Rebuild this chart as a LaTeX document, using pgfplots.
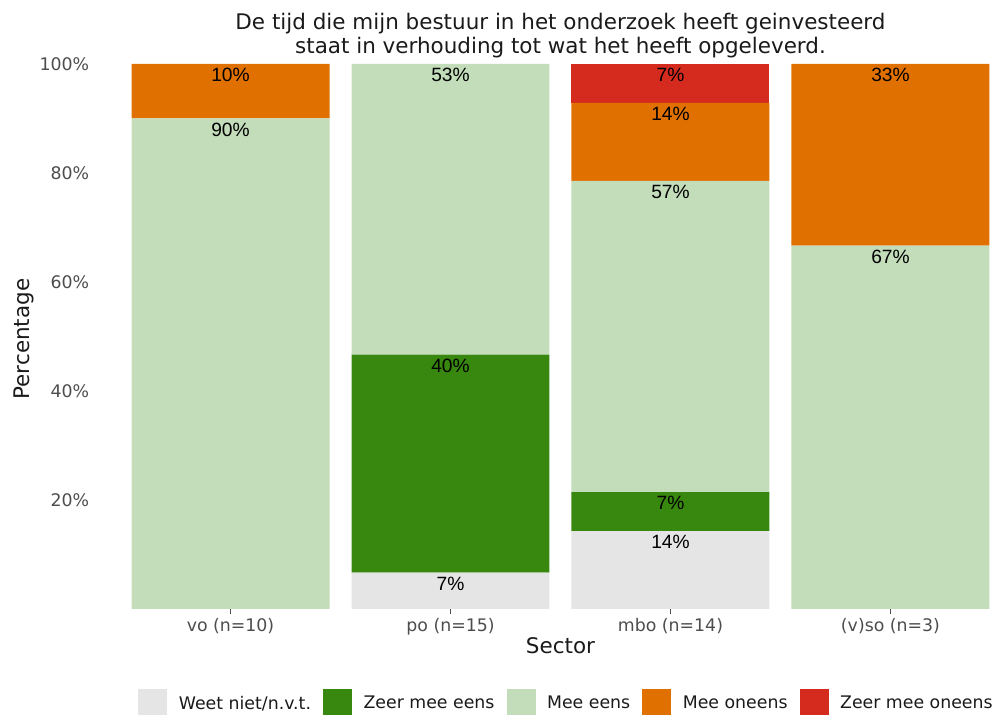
\documentclass[border=0pt]{standalone}
\usepackage{pgfplots}
\pgfplotsset{compat=1.18}
\usepackage{fontspec}
\setmainfont{DejaVu Sans}
\newfontfamily\labelfont{Liberation Sans}

\definecolor{cWeet}{HTML}{E5E5E5}
\definecolor{cZeerEens}{HTML}{38870F}
\definecolor{cEens}{HTML}{C3DCB9}
\definecolor{cOneens}{HTML}{E07000}
\definecolor{cZeerOneens}{HTML}{D52B1F}
\definecolor{tickgrey}{HTML}{4D4D4D}
\definecolor{txt}{HTML}{1A1A1A}

\begin{document}
\begin{tikzpicture}
\begin{axis}[
    scale only axis,
    width=693pt, height=408.75pt,
    xmin=0.4, xmax=4.6, ymin=0, ymax=100,
    clip=false,
    ybar stacked,
    bar width=0.9,
    axis line style={draw=none},
    xtick={1,2,3,4},
    xticklabels={vo (n=10), po (n=15), mbo (n=14), (v)so (n=3)},
    ytick={20,40,60,80,100},
    yticklabels={20\%,40\%,60\%,80\%,100\%},
    /pgf/number format/assume math mode=true,
    tick label style={font=\fontsize{13}{15}\selectfont, text=tickgrey},
    xticklabel style={anchor=base, inner sep=0pt, yshift=-13.5pt},
    yticklabel style={anchor=east, inner sep=0pt, xshift=-3.4pt},
    xtick pos=lower,
    tick align=outside,
    major tick length=3.5pt,
    xtick style={draw=tickgrey, line width=0.6pt},
    ytick style={draw=none},
    nodes near coords,
    point meta=explicit symbolic,
    visualization depends on=rawy \as \segh,
    every node near coord/.append style={anchor=center,
        yshift={\segh*2.04375pt-8.25pt},
        font=\labelfont\fontsize{14.4}{16}\selectfont, text=black},
    legend columns=5,
    legend image code/.code={\fill[#1] (0pt,-10.9pt) rectangle (21.75pt,10.9pt);},
    legend style={at={(0.5,0)}, anchor=center, yshift=-70.9pt, xshift=3.75pt,
        draw=none, fill=none, font=\fontsize{13}{15}\selectfont, text=txt,
        nodes={inner sep=0pt},
        /tikz/every odd column/.append style={column sep=8.7pt},
        /tikz/every even column/.append style={column sep=9pt}},
]
\addplot[fill=cWeet, draw=none] coordinates {
    (1,0) [] (2,6.667) [7\%] (3,14.286) [14\%] (4,0) []
};
\addlegendentry{Weet niet/n.v.t.}
\addplot[fill=cZeerEens, draw=none] coordinates {
    (1,0) [] (2,40) [40\%] (3,7.143) [7\%] (4,0) []
};
\addlegendentry{Zeer mee eens}
\addplot[fill=cEens, draw=none] coordinates {
    (1,90) [90\%] (2,53.333) [53\%] (3,57.143) [57\%] (4,66.667) [67\%]
};
\addlegendentry{Mee eens}
\addplot[fill=cOneens, draw=none] coordinates {
    (1,10) [10\%] (2,0) [] (3,14.286) [14\%] (4,33.333) [33\%]
};
\addlegendentry{Mee oneens}
\addplot[fill=cZeerOneens, draw=none] coordinates {
    (1,0) [] (2,0) [] (3,7.143) [7\%] (4,0) []
};
\addlegendentry{Zeer mee oneens}

\coordinate (bl) at (rel axis cs:0,0);
\node[anchor=base, font=\fontsize{16.1}{19}\selectfont, text=txt]
    at (rel axis cs:0.5,1) [yshift=25.5pt]
    {De tijd die mijn bestuur in het onderzoek heeft geinvesteerd};
\node[anchor=base, font=\fontsize{16.1}{19}\selectfont, text=txt]
    at (rel axis cs:0.5,1) [yshift=7.5pt]
    {staat in verhouding tot wat het heeft opgeleverd.};
\node[anchor=base, font=\fontsize{16.1}{19}\selectfont, text=txt]
    at (rel axis cs:0.5,0) [yshift=-33.75pt] {Sector};
\node[xshift=-52.1pt, yshift=-2pt, rotate=90, anchor=base,
    font=\fontsize{16.1}{19}\selectfont, text=txt]
    at (rel axis cs:0,0.5) {Percentage};
\end{axis}
\pgfresetboundingbox
\path[use as bounding box] ([xshift=-73.9pt,yshift=-79.5pt]bl)
    rectangle ([xshift=678.4pt,yshift=456.75pt]bl);
\end{tikzpicture}
\end{document}
